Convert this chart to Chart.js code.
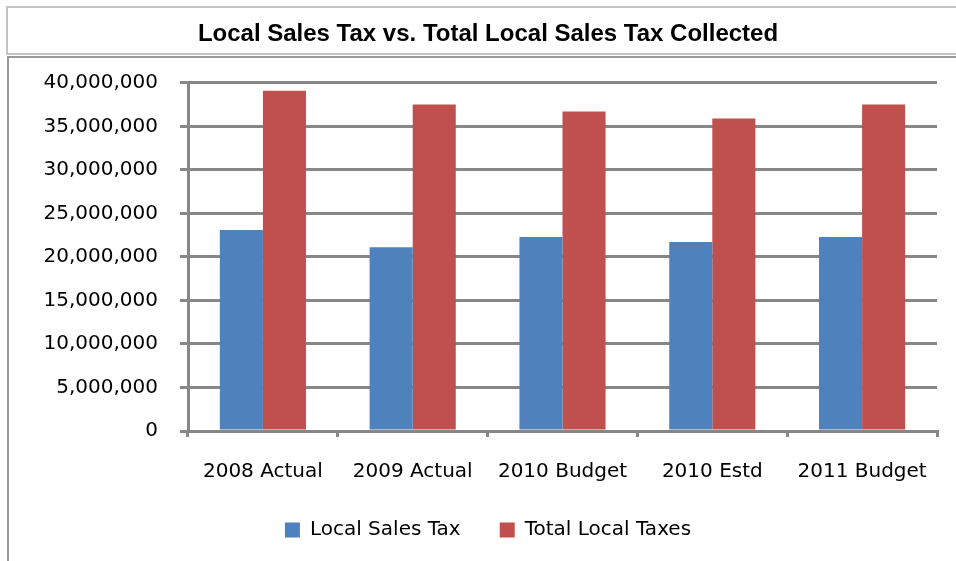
<!DOCTYPE html>
<html>
<head>
<meta charset="utf-8">
<script src="https://cdn.jsdelivr.net/npm/chart.js@4/dist/chart.umd.min.js"></script>
<style>
  html, body { margin: 0; padding: 0; background: #fff; }
  #wrap { width: 956px; height: 561px; position: relative; }
</style>
</head>
<body>
<div id="wrap"><canvas id="chart"></canvas></div>
<script>
const categories = ["2008 Actual", "2009 Actual", "2010 Budget", "2010 Estd", "2011 Budget"];
const localSalesTax = [23100000, 21100000, 22300000, 21700000, 22300000];
const totalLocalTaxes = [39100000, 37500000, 36700000, 35900000, 37500000];
const yTicks = [0, 5000000, 10000000, 15000000, 20000000, 25000000, 30000000, 35000000, 40000000];

const gridGray = "#878787";

// frames around title and plot like the spreadsheet chart
const frames = {
  id: "frames",
  beforeDraw(chart) {
    const c = chart.ctx;
    c.save();
    c.fillStyle = "#fff";
    c.fillRect(0, 0, chart.width, chart.height);
    c.lineWidth = 2;
    c.strokeStyle = "#c4c4c4";
    c.strokeRect(7, 7, 970, 47);
    c.strokeStyle = "#9a9a9a";
    c.strokeRect(8, 57, 970, 530);
    c.restore();
  }
};

const ctx = document.getElementById("chart");

new Chart(ctx, {
  type: "bar",
  data: {
    labels: categories,
    datasets: [
      {
        label: "Local Sales Tax",
        data: localSalesTax,
        backgroundColor: "#4f81bd"
      },
      {
        label: "Total Local Taxes",
        data: totalLocalTaxes,
        backgroundColor: "#c0504d"
      }
    ]
  },
  options: {
    responsive: true,
    maintainAspectRatio: false,
    animation: false,
    layout: { padding: { left: 39, right: 19, top: 0, bottom: 11 } },
    datasets: {
      bar: { categoryPercentage: 0.575, barPercentage: 1 }
    },
    plugins: {
      title: {
        display: true,
        text: "Local Sales Tax vs. Total Local Sales Tax Collected",
        color: "#000",
        font: { family: "Liberation Sans", size: 24, weight: "bold" },
        padding: { top: 20, bottom: 34 }
      },
      legend: {
        position: "bottom",
        labels: {
          color: "#000",
          font: { family: "DejaVu Sans", size: 20 },
          boxWidth: 15,
          boxHeight: 15,
          padding: 39
        }
      },
      tooltip: { enabled: false }
    },
    scales: {
      x: {
        grid: {
          offset: true,
          drawOnChartArea: false,
          color: gridGray,
          lineWidth: 3,
          tickLength: 6
        },
        border: { color: gridGray, width: 3 },
        ticks: {
          color: "#000",
          padding: 23,
          maxRotation: 0,
          font: { family: "DejaVu Sans", size: 20 }
        },
        afterFit(scale) { scale.height = 50; }
      },
      y: {
        min: 0,
        max: 40000000,
        afterBuildTicks(scale) { scale.ticks = yTicks.map(v => ({ value: v })); },
        grid: { color: gridGray, lineWidth: 3, tickLength: 8 },
        border: { color: gridGray, width: 3 },
        ticks: {
          color: "#000",
          padding: 22,
          font: { family: "DejaVu Sans", size: 20 },
          callback: v => v.toLocaleString("en-US")
        },
        afterFit(scale) { scale.width = 149; }
      }
    }
  },
  plugins: [frames]
});
</script>
</body>
</html>
